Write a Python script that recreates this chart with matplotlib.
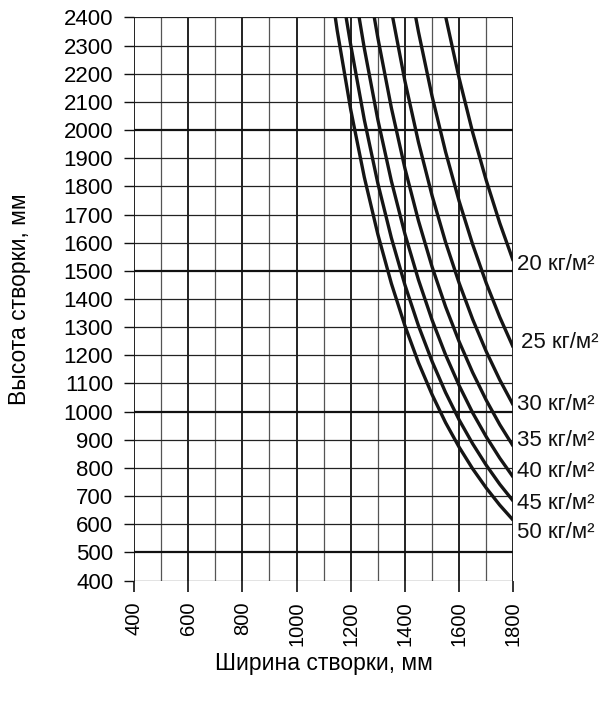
import numpy as np
import matplotlib
matplotlib.use("Agg")
import matplotlib.pyplot as plt

plt.rcParams['font.family'] = ['Liberation Sans', 'DejaVu Sans']

# нагрузки, кг/м2
loads = [20, 25, 30, 35, 40, 45, 50]

# точки кривых (ширина, высота)
w20 = [1551, 1600, 1650, 1700, 1750, 1800]
h20 = [2400, 2185, 1992, 1822, 1670, 1535]

w25 = [1440, 1450, 1500, 1550, 1600, 1650, 1700, 1750, 1800]
h25 = [2400, 2349, 2121, 1923, 1748, 1594, 1457, 1336, 1228]

w30 = [1355, 1400, 1450, 1500, 1550, 1600, 1650, 1700, 1750, 1800]
h30 = [2400, 2174, 1957, 1768, 1602, 1457, 1328, 1214, 1113, 1023]

w35 = [1287, 1300, 1350, 1400, 1450, 1500, 1550, 1600, 1650, 1700, 1750, 1800]
h35 = [2400, 2328, 2079, 1864, 1678, 1515, 1373, 1249, 1139, 1041, 954, 877]

w40 = [1231, 1250, 1300, 1350, 1400, 1450, 1500, 1550, 1600, 1650, 1700, 1750, 1800]
h40 = [2400, 2291, 2037, 1819, 1631, 1468, 1326, 1202, 1093, 996, 911, 835, 767]

w45 = [1183, 1200, 1250, 1300, 1350, 1400, 1450, 1500, 1550, 1600, 1650, 1700, 1750, 1800]
h45 = [2400, 2302, 2037, 1811, 1617, 1450, 1305, 1179, 1068, 971, 886, 810, 742, 682]

w50 = [1143, 1150, 1200, 1250, 1300, 1350, 1400, 1450, 1500, 1550, 1600, 1650, 1700, 1750, 1800]
h50 = [2400, 2354, 2072, 1833, 1630, 1455, 1305, 1174, 1061, 961, 874, 797, 729, 668, 614]

curves_w = [w20, w25, w30, w35, w40, w45, w50]
curves_h = [h20, h25, h30, h35, h40, h45, h50]

# где стоят подписи кривых (по высоте)
label_y = [1524, 1247, 1024, 896, 786, 675, 569]

x_ticks = list(range(400, 1801, 200))
y_ticks = list(range(400, 2401, 100))

fig = plt.figure(figsize=(6.04, 7.11), dpi=100)
ax = fig.add_axes([0.2219, 0.1835, 0.6279, 0.7919])

ax.set_xlim(400, 1800)
ax.set_ylim(400, 2400)

# сетка
for x in range(400, 1801, 100):
  if x % 200 == 0:
    ax.axvline(x, color='#111111', lw=1.3, zorder=1)
  else:
    ax.axvline(x, color='#555555', lw=0.9, zorder=1)
for y in range(400, 2401, 100):
  if y % 500 == 0:
    ax.axhline(y, color='#111111', lw=1.6, zorder=1)
  else:
    ax.axhline(y, color='#222222', lw=0.9, zorder=1)

for sp in ax.spines.values():
  sp.set_visible(False)

for w, h in zip(curves_w, curves_h):
  ax.plot(w, h, color='#151515', lw=2.4, solid_capstyle='butt', zorder=3)

for q, ly in zip(loads, label_y):
  ax.text(1814 if q != 25 else 1828, ly, f"{q} кг/м²", fontsize=16,
          va='center', ha='left', color='#111111', clip_on=False)

ax.set_xticks(x_ticks)
ax.set_xticklabels([str(v) for v in x_ticks], rotation=90, fontsize=14.5)
ax.set_yticks(y_ticks)
ax.set_yticklabels([str(v) for v in y_ticks], fontsize=16)
ax.tick_params(axis='x', length=8, width=1.2, pad=7, color='#111111')
ax.tick_params(axis='y', length=7, width=1.0, pad=8, color='#111111')

ax.set_xlabel("Ширина створки, мм", fontsize=16.5)
ax.xaxis.set_label_coords(0.5, -0.148)
ax.xaxis.label.set_va('center')
ax.set_ylabel("Высота створки, мм", fontsize=16.5)
ax.yaxis.set_label_coords(-0.303, 0.5)
ax.yaxis.label.set_va('center')

fig.savefig("out.png", dpi=100)
